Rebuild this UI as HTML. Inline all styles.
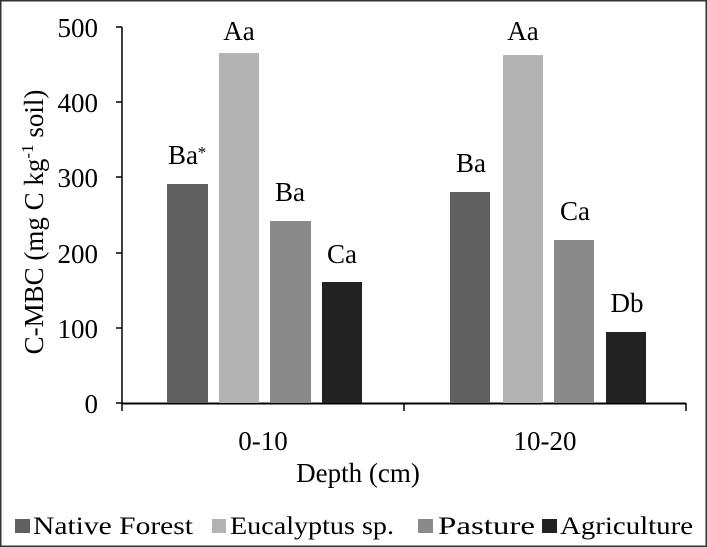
<!DOCTYPE html>
<html><head><style>body{margin:0;background:#fff}svg{display:block}</style></head><body>
<svg width="707" height="547" xmlns="http://www.w3.org/2000/svg" font-family="Liberation Serif, serif" fill="#000">
<rect x="0.75" y="0.75" width="705.5" height="545.5" fill="#fff" stroke="#333" stroke-width="1.5"/>
<g stroke="#000" stroke-width="1.5">
<line x1="122" y1="27" x2="122" y2="404"/>
<line x1="122" y1="403.5" x2="686" y2="403.5" stroke-width="2"/>
<line x1="116" y1="27" x2="122" y2="27"/>
<line x1="116" y1="102" x2="122" y2="102"/>
<line x1="116" y1="177" x2="122" y2="177"/>
<line x1="116" y1="253" x2="122" y2="253"/>
<line x1="116" y1="328" x2="122" y2="328"/>
<line x1="116" y1="403" x2="122" y2="403"/>
<line x1="122" y1="403" x2="122" y2="411"/>
<line x1="404" y1="403" x2="404" y2="411"/>
<line x1="686" y1="403" x2="686" y2="411"/>
</g>
<g font-size="27" text-anchor="end">
<text x="98" y="37">500</text><text x="98" y="112">400</text><text x="98" y="187">300</text>
<text x="98" y="263">200</text><text x="98" y="338">100</text><text x="98" y="413">0</text>
</g>
<rect x="167" y="184" width="41" height="219" fill="#606060"/>
<rect x="219" y="53" width="40" height="350" fill="#b3b3b3"/>
<rect x="270" y="221" width="41" height="182" fill="#8a8a8a"/>
<rect x="322" y="282" width="40" height="121" fill="#222"/>
<rect x="450" y="192" width="40" height="211" fill="#606060"/>
<rect x="503" y="55" width="40" height="348" fill="#b3b3b3"/>
<rect x="554" y="240" width="40" height="163" fill="#8a8a8a"/>
<rect x="606" y="332" width="40" height="71" fill="#222"/>
<g font-size="27" text-anchor="middle">
<text x="183" y="164">Ba</text><text x="202" y="158" font-size="17">*</text>
<text x="239" y="40">Aa</text>
<text x="290" y="201">Ba</text>
<text x="342" y="263">Ca</text>
<text x="471" y="172">Ba</text>
<text x="523" y="40">Aa</text>
<text x="575" y="220">Ca</text>
<text x="627" y="312">Db</text>
<text x="263" y="450">0-10</text>
<text x="545" y="450">10-20</text>
<text x="358" y="482">Depth (cm)</text>
</g>
<text transform="translate(43,222) rotate(-90)" font-size="27" text-anchor="middle">C-MBC (mg C kg<tspan dy="-10" font-size="17">-1</tspan><tspan dy="10"> soil)</tspan></text>
<rect x="15" y="519" width="15" height="14" fill="#606060"/>
<rect x="212" y="519" width="14" height="14" fill="#b3b3b3"/>
<rect x="418" y="519" width="15" height="14" fill="#8a8a8a"/>
<rect x="542" y="519" width="15" height="14" fill="#222"/>
<g font-size="25">
<text x="33" y="534" textLength="160" lengthAdjust="spacingAndGlyphs">Native Forest</text>
<text x="230" y="534" textLength="164" lengthAdjust="spacingAndGlyphs">Eucalyptus sp.</text>
<text x="438" y="534" textLength="97" lengthAdjust="spacingAndGlyphs">Pasture</text>
<text x="560" y="534" textLength="133" lengthAdjust="spacingAndGlyphs">Agriculture</text>
</g>
</svg>
</body></html>
